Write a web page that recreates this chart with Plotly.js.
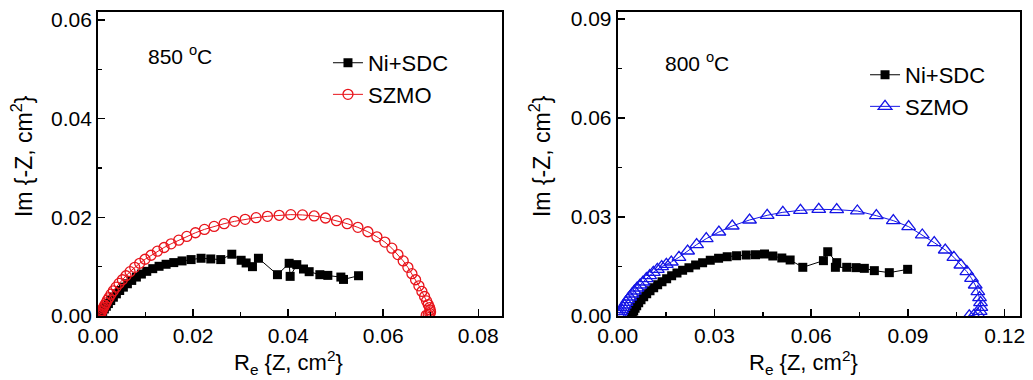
<!DOCTYPE html>
<html>
<head>
<meta charset="utf-8">
<script src="https://cdn.plot.ly/plotly-3.0.1.min.js"></script>
<style>html,body{margin:0;padding:0;background:#fff;}#chart{width:1033px;height:380px;}</style>
</head>
<body>
<div id="chart"></div>
<script>
// ---- Left panel: 850 °C ----
var niSdc850X = [0.00042,0.00070,0.00098,0.00133,0.00175,0.00218,0.00267,0.00323,0.00386,0.00456,0.00533,0.00618,0.00709,0.00807,0.00912,0.01025,0.01151,0.01284,0.01432,0.01593,0.01768,0.01958,0.02168,0.02372,0.02582,0.02814,0.03011,0.03116,0.03249,0.03375,0.03775,0.04021,0.04042,0.04182,0.04323,0.04442,0.04667,0.04835,0.05109,0.05165,0.05481];
var niSdc850Y = [0.00007,0.00048,0.00095,0.00143,0.00197,0.00252,0.00313,0.00381,0.00449,0.00517,0.00585,0.00653,0.00721,0.00789,0.00850,0.00905,0.00959,0.01007,0.01048,0.01082,0.01116,0.01143,0.01170,0.01156,0.01143,0.01252,0.01129,0.01075,0.01000,0.01170,0.00837,0.01068,0.00803,0.01041,0.00952,0.00898,0.00837,0.00823,0.00789,0.00741,0.00816];
var szmo850X = [0.00028,0.00042,0.00056,0.00070,0.00084,0.00098,0.00119,0.00140,0.00168,0.00196,0.00232,0.00274,0.00323,0.00379,0.00442,0.00512,0.00589,0.00674,0.00772,0.00877,0.00989,0.01116,0.01249,0.01389,0.01537,0.01698,0.01867,0.02049,0.02239,0.02442,0.02653,0.02870,0.03095,0.03326,0.03565,0.03811,0.04056,0.04302,0.04547,0.04786,0.05018,0.05242,0.05467,0.05677,0.05867,0.06035,0.06182,0.06309,0.06421,0.06519,0.06604,0.06681,0.06751,0.06814,0.06870,0.06912,0.06947,0.06975,0.06989,0.06996,0.06982,0.06947,0.06905];
var szmo850Y = [0.00007,0.00027,0.00054,0.00082,0.00109,0.00143,0.00177,0.00218,0.00265,0.00320,0.00374,0.00442,0.00510,0.00585,0.00660,0.00735,0.00816,0.00898,0.00986,0.01068,0.01150,0.01231,0.01313,0.01388,0.01463,0.01537,0.01612,0.01687,0.01755,0.01816,0.01871,0.01918,0.01959,0.01993,0.02020,0.02041,0.02054,0.02048,0.02027,0.01986,0.01932,0.01871,0.01796,0.01707,0.01605,0.01497,0.01374,0.01245,0.01116,0.00986,0.00857,0.00735,0.00612,0.00497,0.00395,0.00306,0.00231,0.00170,0.00122,0.00082,0.00048,0.00027,0.00014];

// ---- Right panel: 800 °C ----
var niSdc800X = [0.00423,0.00454,0.00495,0.00537,0.00588,0.00650,0.00722,0.00805,0.00898,0.01001,0.01115,0.01238,0.01373,0.01517,0.01672,0.01837,0.02012,0.02208,0.02415,0.02632,0.02869,0.03127,0.03395,0.03684,0.03983,0.04272,0.04551,0.04809,0.05088,0.05346,0.05738,0.06378,0.06512,0.06790,0.06749,0.07100,0.07389,0.07647,0.07957,0.08421,0.08989];
var niSdc800Y = [0.00020,0.00081,0.00152,0.00232,0.00313,0.00404,0.00495,0.00586,0.00677,0.00768,0.00859,0.00949,0.01040,0.01131,0.01222,0.01303,0.01384,0.01465,0.01545,0.01616,0.01687,0.01747,0.01798,0.01828,0.01848,0.01859,0.01879,0.01818,0.01758,0.01697,0.01475,0.01677,0.01949,0.01616,0.01475,0.01475,0.01465,0.01444,0.01374,0.01313,0.01414];
var szmo800X = [0.00041,0.00062,0.00093,0.00124,0.00165,0.00206,0.00258,0.00310,0.00372,0.00444,0.00516,0.00599,0.00691,0.00784,0.00888,0.00991,0.01104,0.01228,0.01362,0.01507,0.01661,0.01899,0.02167,0.02446,0.02745,0.03137,0.03550,0.04087,0.04634,0.05119,0.05666,0.06233,0.06790,0.07430,0.08019,0.08545,0.09020,0.09443,0.09814,0.10155,0.10423,0.10640,0.10826,0.10970,0.11084,0.11166,0.11218,0.11249,0.11259,0.11238,0.11166,0.11042,0.10900];
var szmo800Y = [0.00020,0.00071,0.00131,0.00192,0.00263,0.00333,0.00414,0.00495,0.00576,0.00667,0.00758,0.00848,0.00939,0.01030,0.01131,0.01222,0.01323,0.01414,0.01495,0.01566,0.01636,0.01778,0.01970,0.02162,0.02343,0.02545,0.02727,0.02909,0.03051,0.03141,0.03202,0.03232,0.03222,0.03182,0.03040,0.02889,0.02707,0.02455,0.02222,0.02000,0.01778,0.01545,0.01343,0.01141,0.00939,0.00737,0.00556,0.00404,0.00263,0.00141,0.00061,0.00020,0.00008];

var seriesNames = ['Ni+SDC', 'SZMO'];
var panelLabels = ['850 <sup>o</sup>C', '800 <sup>o</sup>C'];
var xTitle = 'R<sub>e</sub> {Z, cm<sup>2</sup>}';
var yTitle = 'Im {-Z, cm<sup>2</sup>}';

var FONT = '"Liberation Sans", Arial, sans-serif';

var traces = [
  {x: niSdc850X, y: niSdc850Y, name: seriesNames[0], xaxis: 'x', yaxis: 'y', legend: 'legend',
   mode: 'lines+markers', line: {color: '#000', width: 1},
   marker: {symbol: 'square', size: 9, color: '#000'}},
  {x: szmo850X, y: szmo850Y, name: seriesNames[1], xaxis: 'x', yaxis: 'y', legend: 'legend',
   mode: 'lines+markers', line: {color: '#e8141b', width: 1},
   marker: {symbol: 'circle-open', size: 10, color: '#e8141b', line: {width: 1.3, color: '#e8141b'}}},
  {x: niSdc800X, y: niSdc800Y, name: seriesNames[0], xaxis: 'x2', yaxis: 'y2', legend: 'legend2',
   mode: 'lines+markers', line: {color: '#000', width: 1},
   marker: {symbol: 'square', size: 9, color: '#000'}},
  {x: szmo800X, y: szmo800Y, name: seriesNames[1], xaxis: 'x2', yaxis: 'y2', legend: 'legend2',
   mode: 'lines+markers', line: {color: '#1515e6', width: 1},
   marker: {symbol: 'triangle-up-open', size: 12, color: '#1515e6', line: {width: 1.3, color: '#1515e6'}}}
];

function axisBase(range, dtick, minor) {
  return {
    range: range, dtick: dtick, tick0: 0, tickformat: '.2f',
    ticks: 'inside', ticklen: 7, tickwidth: 1.5, tickcolor: '#000',
    showline: true, linewidth: 2, linecolor: '#000', mirror: true,
    showgrid: false, zeroline: false,
    tickfont: {family: FONT, size: 21, color: '#000'},
    minor: {dtick: minor, tick0: 0, ticks: 'inside', ticklen: 4, tickwidth: 1.5, tickcolor: '#000', showgrid: false}
  };
}

var xa1 = axisBase([0, 0.085], 0.02, 0.01); xa1.domain = [0.0949, 0.486]; xa1.anchor = 'y';
var ya1 = axisBase([0, 0.0616], 0.02, 0.01); ya1.domain = [0, 1]; ya1.anchor = 'x';
var xa2 = axisBase([0, 0.1246], 0.03, 0.015); xa2.domain = [0.598, 0.987]; xa2.anchor = 'y2';
var ya2 = axisBase([0, 0.0921], 0.03, 0.015); ya2.domain = [0, 1]; ya2.anchor = 'x2';

function annot(text, x, y, angle, size) {
  return {text: text, xref: 'paper', yref: 'paper', x: x, y: y, xanchor: 'center', yanchor: 'middle',
          showarrow: false, textangle: angle || 0, font: {family: FONT, size: size || 21, color: '#000'}};
}

var legendBase = function (x, y) {
  return {x: x, y: y, xanchor: 'left', yanchor: 'top', bgcolor: 'rgba(0,0,0,0)', borderwidth: 0,
          font: {family: FONT, size: 22, color: '#000'}, tracegroupgap: 0, itemwidth: 30};
};

var layout = {
  width: 1033, height: 380,
  margin: {l: 0, r: 0, t: 12, b: 64},
  paper_bgcolor: '#fff', plot_bgcolor: '#fff',
  font: {family: FONT, color: '#000'},
  showlegend: true,
  legend: legendBase(0.3175, 0.9015),
  legend2: legendBase(0.8374, 0.862),
  xaxis: xa1, yaxis: ya1, xaxis2: xa2, yaxis2: ya2,
  annotations: [
    annot(panelLabels[0], 0.1743, 0.8586, 0, 21),
    annot(panelLabels[1], 0.6747, 0.8355, 0, 21),
    annot(yTitle, 0.0213, 0.526, -90, 23),
    annot(yTitle, 0.5227, 0.526, -90, 23),
    annot(xTitle, 0.2788, -0.153, 0, 22),
    annot(xTitle, 0.7783, -0.153, 0, 22)
  ]
};

Plotly.newPlot('chart', traces, layout, {displayModeBar: false, staticPlot: true});
</script>
</body>
</html>
